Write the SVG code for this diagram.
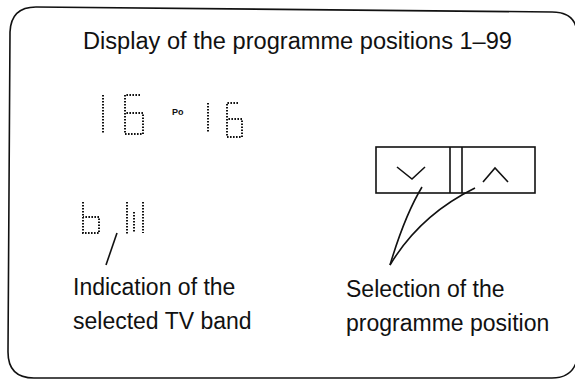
<svg xmlns="http://www.w3.org/2000/svg" width="575" height="380" viewBox="0 0 575 380">
<style>
.t{font-family:"Liberation Sans",Arial,sans-serif;font-size:23px;fill:#111}
.seg{fill:none;stroke:#111;stroke-width:2;stroke-dasharray:1.6 1.4}
.ln{fill:none;stroke:#111;stroke-width:1.6}
</style>
<rect width="575" height="380" fill="#fff"/>
<path id="border" class="ln" d="M577,32 Q575,12 552,12 L36,7 Q11,7 10,32 L8,352 Q8,378 34,378 L552,378 Q572,378 577,360"/>
<g id="title"><text class="t" x="83" y="49" font-size="22.5" textLength="429" lengthAdjust="spacingAndGlyphs">Display of the programme positions 1–99</text></g>
<g id="display-16-po-16">
<path class="seg" d="M103,95 V134"/>
<path class="seg" d="M140,95 H125 V134 H143 V113 H125"/>
<text x="172" y="115" font-family="Liberation Sans,Arial,sans-serif" font-size="9" font-weight="bold" fill="#111">Po</text>
<path class="seg" d="M208,103 V133"/>
<path class="seg" d="M238,103 H227 V137 H242 V119 H227"/>
</g>
<g id="band-display">
<path class="seg" d="M83,202 V233 H99 V217 H83"/>
<path class="seg" d="M127,202 V234"/>
<path class="seg" d="M134,212 V232" stroke-width="2.4"/>
<path class="seg" d="M143,202 V233" stroke-width="2.4"/>
</g>
<g id="buttons">
<rect class="ln" x="376" y="147" width="159" height="46"/>
<path class="ln" d="M450,147 V193 M462,147 V193"/>
<path class="ln" d="M397,167 L412,179 L425,167"/>
<path class="ln" d="M483,182 L495,168 L508,182"/>
</g>
<g id="label-band"><text class="t" x="73" y="295">Indication of the</text><text class="t" x="73" y="329">selected TV band</text></g>
<g id="label-selection"><text class="t" x="346" y="297">Selection of the</text><text class="t" x="346" y="331">programme position</text></g>
<g id="connectors">
<path class="ln" d="M117,233 L106,265"/>
<path class="ln" d="M422,187 Q405,215 390,265"/>
<path class="ln" d="M475,188 Q420,215 390,265"/>
</g>
</svg>
